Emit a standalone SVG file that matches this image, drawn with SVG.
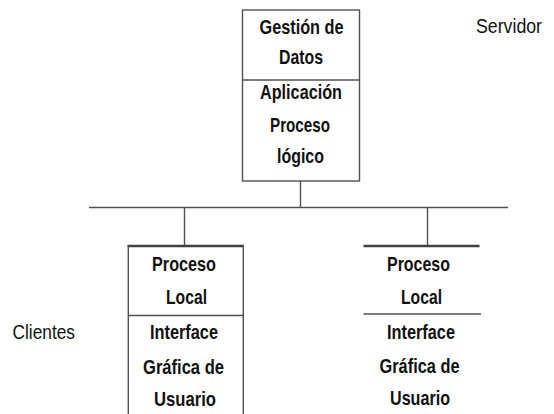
<svg xmlns="http://www.w3.org/2000/svg" width="554" height="414" viewBox="0 0 554 414">
<style>
.ln{stroke:#505050;stroke-width:1.4;fill:none}
.tk{stroke:#404040;stroke-width:2.6;fill:none}
.t{font-family:"Liberation Sans Narrow","Liberation Sans",Arial,sans-serif;font-size:21px;font-weight:bold;fill:#111}
.lb{font-family:"Liberation Sans Narrow","Liberation Sans",Arial,sans-serif;font-size:21px;fill:#111}
</style>
<rect width="554" height="414" fill="#fff"/>
<g id="connectors">
<line class="ln" x1="300.5" y1="181" x2="300.5" y2="207.5"/>
<line class="ln" x1="89" y1="207.5" x2="508" y2="207.5"/>
<line class="ln" x1="184.5" y1="207.5" x2="184.5" y2="245"/>
<line class="ln" x1="427.5" y1="207.5" x2="427.5" y2="245"/>
</g>
<g id="servidor">
<rect class="ln" x="242.5" y="10" width="117" height="171"/>
<line class="ln" x1="242.5" y1="80" x2="359.5" y2="80"/>
<text class="t" x="259.5" y="34" textLength="84" lengthAdjust="spacingAndGlyphs">Gestión de</text>
<text class="t" x="279" y="64" textLength="44" lengthAdjust="spacingAndGlyphs">Datos</text>
<text class="t" x="260" y="99" textLength="82" lengthAdjust="spacingAndGlyphs">Aplicación</text>
<text class="t" x="270" y="132" textLength="60" lengthAdjust="spacingAndGlyphs">Proceso</text>
<text class="t" x="277" y="163" textLength="47" lengthAdjust="spacingAndGlyphs">lógico</text>
</g>
<g id="cliente1">
<line class="tk" x1="127.6" y1="246" x2="244" y2="246"/>
<line class="ln" x1="128.3" y1="245" x2="128.3" y2="414"/>
<line class="ln" x1="243.3" y1="245" x2="243.3" y2="414"/>
<line class="ln" x1="128.3" y1="315.5" x2="243.3" y2="315.5"/>
<text class="t" x="152" y="271" textLength="64" lengthAdjust="spacingAndGlyphs">Proceso</text>
<text class="t" x="166" y="304" textLength="41" lengthAdjust="spacingAndGlyphs">Local</text>
<text class="t" x="150" y="339" textLength="68" lengthAdjust="spacingAndGlyphs">Interface</text>
<text class="t" x="143" y="374" textLength="81" lengthAdjust="spacingAndGlyphs">Gráfica de</text>
<text class="t" x="154" y="406" textLength="62" lengthAdjust="spacingAndGlyphs">Usuario</text>
</g>
<g id="cliente2">
<line class="tk" x1="363.5" y1="246" x2="479.5" y2="246"/>
<line class="ln" x1="363.5" y1="314" x2="481" y2="314"/>
<text class="t" x="387" y="271" textLength="63" lengthAdjust="spacingAndGlyphs">Proceso</text>
<text class="t" x="401" y="304" textLength="41" lengthAdjust="spacingAndGlyphs">Local</text>
<text class="t" x="387" y="338.5" textLength="68" lengthAdjust="spacingAndGlyphs">Interface</text>
<text class="t" x="379.5" y="373" textLength="80" lengthAdjust="spacingAndGlyphs">Gráfica de</text>
<text class="t" x="390" y="405" textLength="60" lengthAdjust="spacingAndGlyphs">Usuario</text>
</g>
<g id="labels">
<text class="lb" x="476" y="33" font-size="20" textLength="66" lengthAdjust="spacingAndGlyphs">Servidor</text>
<text class="lb" x="12.5" y="338.5" textLength="62.5" lengthAdjust="spacingAndGlyphs">Clientes</text>
</g>
</svg>
